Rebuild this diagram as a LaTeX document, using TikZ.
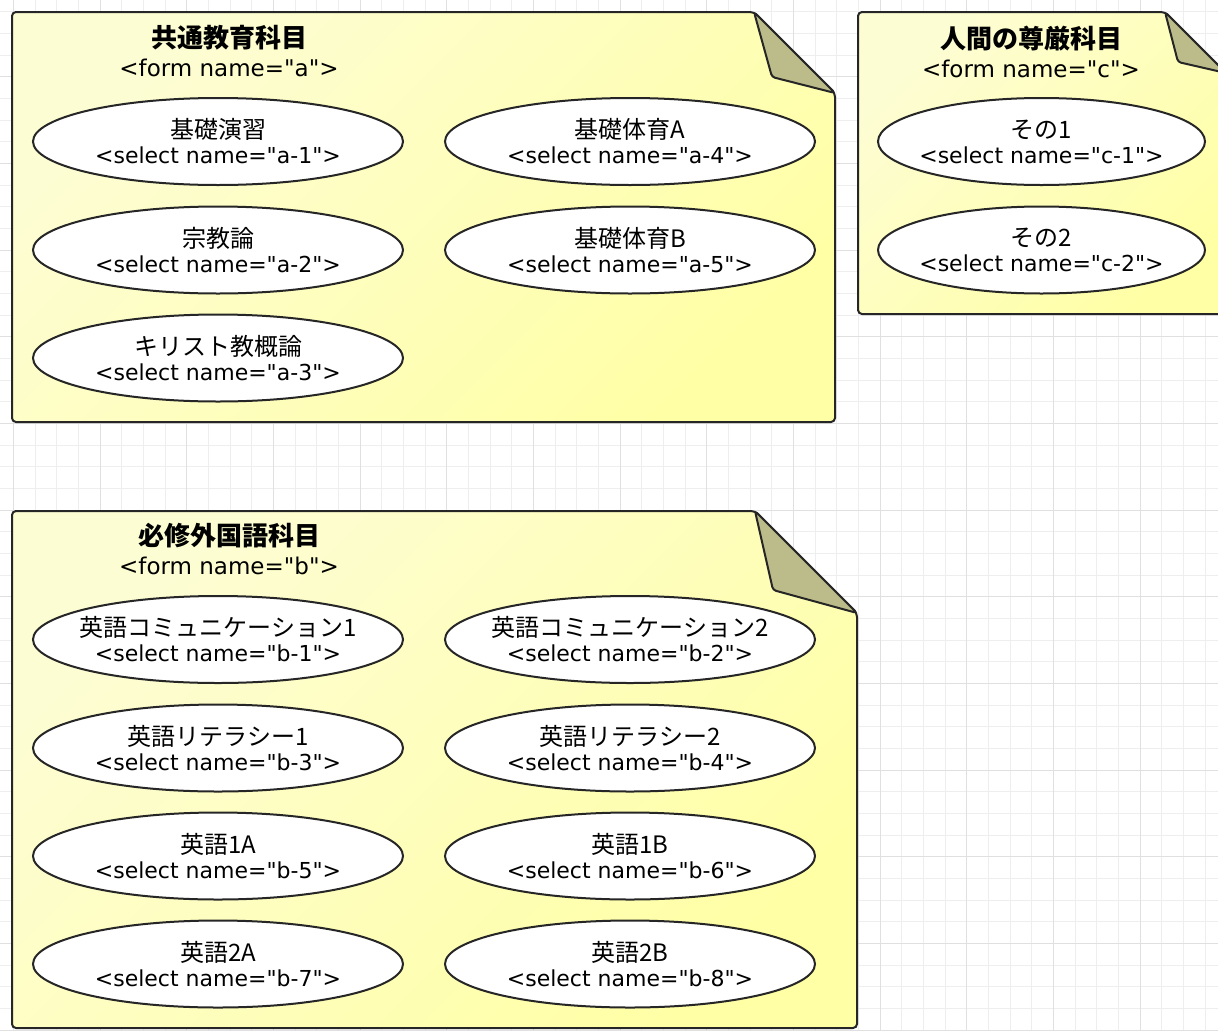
\documentclass[tikz,border=0pt]{standalone}
\usepackage{fontspec}
\setmainfont{DejaVu Sans}
\newfontfamily\latinfont{DejaVu Sans}
\newfontfamily\jpfont{Noto Sans CJK JP}
\usetikzlibrary{shapes.geometric}
\definecolor{notelight}{RGB}{253,253,212}
\definecolor{notedark}{RGB}{255,255,166}
\definecolor{foldfill}{RGB}{188,188,138}
\definecolor{edgecol}{RGB}{38,38,38}
\definecolor{gridminor}{RGB}{238,238,238}
\definecolor{gridmajor}{RGB}{224,224,224}
\newcommand\jl[1]{{\jpfont\fontsize{24}{25}\selectfont #1}}
\newcommand\sel[1]{<select name="#1">}
\newcommand\ttl[1]{{\jpfont\bfseries\fontsize{26}{29}\selectfont #1}}
\begin{document}
\begin{tikzpicture}[x=1pt,y=-1pt,
  notebody/.style={draw=edgecol, line width=2pt, rounded corners=4pt, top color=notelight, bottom color=notedark, shading angle=45},
  foldbody/.style={draw=edgecol, line width=2pt, fill=foldfill, rounded corners=3pt, line join=round},
  usecase/.style={ellipse, draw=edgecol, line width=2pt, fill=white, minimum width=370pt, minimum height=87pt, inner xsep=-25pt, inner ysep=0pt, align=center, font=\latinfont\fontsize{22}{25}\selectfont},
  notetitle/.style={align=center, font=\latinfont\fontsize{23}{29}\selectfont, inner sep=0pt}]
\useasboundingbox (0,0) rectangle (1218,1031);
\clip (0,0) rectangle (1218,1031);
\fill[white] (0,0) rectangle (1218,1031);
% grid
\foreach \i in {0,...,56} { \draw[gridminor, line width=1pt] ({13.333+21.6667*\i},0) -- ++(0,1031); }
\foreach \i in {0,...,47} { \draw[gridminor, line width=1pt] (0,{11.667+21.6667*\i}) -- ++(1218,0); }
\foreach \i in {0,...,14} { \draw[gridmajor, line width=1pt] ({13.333+86.6667*\i},0) -- ++(0,1031); }
\foreach \i in {1,...,12} { \draw[gridmajor, line width=1pt] (0,{-10+86.6667*\i}) -- ++(1218,0); }
% note A
\path[notebody] (12,12) -- (754,12) -- (835,93) -- (835,422) -- (12,422) -- cycle;
\path[foldbody] (754,12) -- (772,77) -- (835,93) -- cycle;
% note C
\path[notebody] (858,12) -- (1165,12) -- (1226,73) -- (1226,314) -- (858,314) -- cycle;
\path[foldbody] (1165,12) -- (1178,62) -- (1226,73) -- cycle;
% note B
\path[notebody] (12,511) -- (755,511) -- (857,613) -- (857,1028) -- (12,1028) -- cycle;
\path[foldbody] (755,511) -- (773,590) -- (857,613) -- cycle;
% titles
\node[notetitle] (ta) at (229,51.5) {\ttl{共通教育科目}\\<form name="a">};
\node[notetitle] (tc) at (1031,51.5) {\ttl{人間の尊厳科目}\\<form name="c">};
\node[notetitle] (tb) at (229,549.5) {\ttl{必修外国語科目}\\<form name="b">};
% form a
\node[usecase] (a1) at (218,141.5) {\jl{基礎演習}\\\sel{a-1}};
\node[usecase] (a2) at (218,250) {\jl{宗教論}\\\sel{a-2}};
\node[usecase] (a3) at (218,358) {\jl{キリスト教概論}\\\sel{a-3}};
\node[usecase] (a4) at (630,141.5) {\jl{基礎体育A}\\\sel{a-4}};
\node[usecase] (a5) at (630,250) {\jl{基礎体育B}\\\sel{a-5}};
% form c
\node[usecase, minimum width=327pt] (c1) at (1041.5,141.5) {\jl{その1}\\\sel{c-1}};
\node[usecase, minimum width=327pt] (c2) at (1041.5,250) {\jl{その2}\\\sel{c-2}};
% form b
\node[usecase] (b1) at (218,639.5) {\jl{英語コミュニケーション1}\\\sel{b-1}};
\node[usecase] (b2) at (630,639.5) {\jl{英語コミュニケーション2}\\\sel{b-2}};
\node[usecase] (b3) at (218,748) {\jl{英語リテラシー1}\\\sel{b-3}};
\node[usecase] (b4) at (630,748) {\jl{英語リテラシー2}\\\sel{b-4}};
\node[usecase] (b5) at (218,856) {\jl{英語1A}\\\sel{b-5}};
\node[usecase] (b6) at (630,856) {\jl{英語1B}\\\sel{b-6}};
\node[usecase] (b7) at (218,964) {\jl{英語2A}\\\sel{b-7}};
\node[usecase] (b8) at (630,964) {\jl{英語2B}\\\sel{b-8}};
\end{tikzpicture}
\end{document}
